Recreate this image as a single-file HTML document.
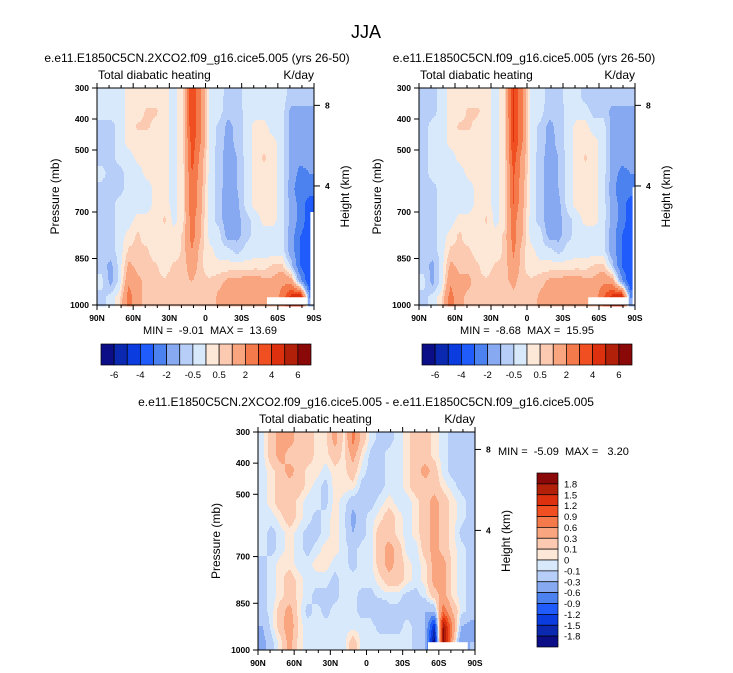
<!DOCTYPE html>
<html><head><meta charset="utf-8">
<style>
html,body{margin:0;padding:0;background:#fff;}
svg{display:block;font-family:"Liberation Sans",Arial,sans-serif;}
text{white-space:pre;}
</style></head>
<body>
<svg id="root" width="733" height="673" viewBox="0 0 733 673" xmlns="http://www.w3.org/2000/svg" xml:space="preserve">
<text x="366" y="38" text-anchor="middle" font-size="18">JJA</text>
<text x="197" y="62" text-anchor="middle" font-size="12">e.e11.E1850C5CN.2XCO2.f09_g16.cice5.005 (yrs 26-50)</text>
<text x="524" y="62" text-anchor="middle" font-size="12">e.e11.E1850C5CN.f09_g16.cice5.005 (yrs 26-50)</text>
<text x="366" y="406" text-anchor="middle" font-size="12">e.e11.E1850C5CN.2XCO2.f09_g16.cice5.005 - e.e11.E1850C5CN.f09_g16.cice5.005</text>
<text x="210" y="334" text-anchor="middle" font-size="11">MIN =  -9.01  MAX =  13.69</text>
<text x="527" y="334" text-anchor="middle" font-size="11">MIN =  -8.68  MAX =  15.95</text>
<text x="498" y="455" font-size="11">MIN =  -5.09  MAX =   3.20</text>
<g id="panels"></g>
</svg>
<script>
// ---- data ----
const levelsFull = [-6,-5,-4,-3,-2,-1,-0.5,0,0.5,1,2,3,4,5,6];
const labelsFull = ["-6","-4","-2","-0.5","0.5","2","4","6"];
const levelsDiff = [-1.8,-1.5,-1.2,-0.9,-0.6,-0.3,-0.1,0,0.1,0.3,0.6,0.9,1.2,1.5,1.8];
const labelsDiff = ["1.8","1.5","1.2","0.9","0.6","0.3","0.1","0","-0.1","-0.3","-0.6","-0.9","-1.2","-1.5","-1.8"];
const colors = ["#0b0e86","#0a28b0","#0a3ce0","#1f5cfb","#4b82ef","#86a9f1","#b6cef8","#d8e9fb","#fde7d7","#fcc9b1","#f9a580","#f47a4c","#f04f22","#dc300f","#b2200a","#8a0808"];
const pressureTicks = [300,400,500,700,850,1000];
const latTicks = ["90N","60N","30N","0","30S","60S","90S"];
const heightTicks = [8,4];
const heightTickP = [356,616];
// rows: 325..975 mb (50 mb steps); cols: 90N -> 90S (7.5 deg)
const ctlA = [
[-0.3,-0.3,-0.3,0.2,0.2,0.2,0.2,0.2,-0.2,0.3,4,2,-0.3,-0.3,-0.7,-0.7,-0.3,-0.3,-0.3,-0.3,-0.3,-0.7,-0.7,-0.7],
[-0.3,-0.3,-0.3,0.2,0.2,0.6,0.6,0.2,-0.2,0.3,4,2,-0.3,-0.3,-0.8,-0.8,-0.3,-0.3,-0.3,-0.3,-0.3,-1.2,-1.2,-1.2],
[-0.7,-0.7,-0.3,0.2,0.6,0.6,0.3,0.2,-0.2,0.3,4,2,-0.3,-0.6,-1.2,-0.8,-0.3,0.2,0.2,-0.3,-0.3,-1.2,-1.2,-1.2],
[-0.7,-0.7,-0.3,0.2,0.2,0.2,0.2,0.2,-0.2,0.3,3.5,2,-0.3,-0.6,-1.3,-0.8,-0.3,0.2,0.2,0.2,-0.3,-1.2,-1.2,-1.2],
[-0.7,-0.7,-0.3,-0.3,0.2,0.2,0.2,0.2,-0.2,0.3,3.5,1.5,-0.3,-0.7,-1.4,-1.0,-0.3,0.2,0.6,0.2,-0.3,-1.2,-1.5,-1.5],
[-0.3,-0.7,-0.7,-0.3,-0.3,0.2,0.2,0.2,-0.2,0.3,3,1.5,-0.3,-0.7,-1.4,-1.0,-0.3,0.2,0.3,0.2,-0.3,-1.2,-2.5,-2],
[-0.7,-0.7,-0.7,-0.3,-0.3,-0.3,0.2,0.2,-0.2,0.3,3,1.2,-0.3,-0.7,-1.5,-1.0,-0.3,0.2,0.2,0.2,-0.3,-1.5,-3,-2.5],
[-0.7,-0.7,-0.3,-0.3,-0.3,-0.3,0.2,0.2,-0.2,0.3,3,1.2,-0.3,-0.7,-1.5,-1.2,-0.3,0.2,0.2,0.2,-0.3,-1.2,-2.5,-3.5],
[-0.7,-0.7,-0.3,-0.3,0.2,0.2,0.2,0.6,-0.2,0.3,2.5,1,-0.3,-0.7,-1.5,-1.2,-0.7,-0.3,0.2,0.2,-0.3,-1.2,-2.5,-3.5],
[-0.7,-0.7,-0.3,0.2,0.6,0.2,0.2,0.2,0.2,0.6,2.5,1,-0.3,-0.3,-1.3,-1.2,-0.7,-0.3,-0.3,-0.3,-0.3,-1.5,-3,-3.5],
[-0.7,-0.7,-0.3,0.6,0.6,0.6,0.2,0.2,0.2,0.6,2,0.6,0.2,-0.3,-0.3,-0.7,-0.3,-0.3,-0.3,-0.3,-0.3,-1.5,-3,-3.5],
[-0.7,-1.2,-0.3,1.2,0.8,0.6,0.6,0.2,0.6,0.6,1.5,0.6,0.2,0.2,0.2,0.2,0.2,0.3,0.3,0.6,0.6,-0.7,-3,-4],
[-0.3,-1.2,-0.3,1.8,1.2,0.8,0.6,0.6,0.8,0.8,1,0.6,0.6,0.8,1.2,1.2,1.5,1.5,1.2,1.2,1.8,1.5,-1.5,-4],
[-0.7,-0.3,0.3,2.5,1.2,0.8,0.6,0.6,0.6,0.6,0.8,0.6,0.6,1.2,1.2,1.2,1.2,1.2,1.2,1.2,2.5,4.5,5,-2]];
const ctlB = [
[-0.7,-0.7,-0.3,0.2,0.2,0.2,0.2,0.2,-0.2,0.3,4.2,2,-0.3,-0.3,-0.7,-0.7,-0.3,-0.3,-0.7,-0.7,-0.7,-0.7,-0.7,-0.7],
[-0.7,-0.7,-0.3,0.2,0.2,0.6,0.6,0.2,-0.2,0.3,4.2,2,-0.3,-0.3,-0.8,-0.8,-0.3,-0.3,-0.3,-0.7,-0.7,-1.2,-1.2,-1.2],
[-0.7,-0.3,-0.3,0.2,0.6,0.6,0.3,0.2,-0.2,0.3,4,2,-0.3,-0.6,-1.2,-0.8,-0.3,0.2,0.2,-0.3,-0.3,-1.2,-1.2,-1.2],
[-0.7,-0.3,-0.3,0.2,0.2,0.2,0.2,0.2,-0.2,0.3,4,2,-0.3,-0.6,-1.3,-0.8,-0.3,0.2,0.2,0.2,-0.3,-1.2,-1.2,-1.2],
[-0.7,-0.3,-0.3,-0.3,0.2,0.2,0.2,0.2,-0.2,0.3,3.5,1.5,-0.3,-0.7,-1.4,-1.0,-0.3,0.2,0.6,0.2,-0.3,-1.2,-1.5,-1.5],
[-0.7,-0.3,-0.3,-0.3,-0.3,0.2,0.2,0.2,-0.2,0.3,3.2,1.5,-0.3,-0.7,-1.4,-1.0,-0.3,0.2,0.3,0.2,-0.3,-1.2,-2.5,-2],
[-0.7,-0.7,-0.3,-0.3,-0.3,-0.3,0.2,0.2,-0.2,0.3,3,1.2,-0.3,-0.7,-1.5,-1.0,-0.3,0.2,0.2,0.2,-0.3,-1.5,-3,-2.5],
[-0.7,-0.7,-0.3,-0.3,-0.3,-0.3,0.2,0.2,-0.2,0.3,3,1.2,-0.3,-0.7,-1.5,-1.2,-0.3,0.2,0.2,0.2,-0.3,-1.2,-2.5,-3.5],
[-0.7,-0.7,-0.3,-0.3,0.2,0.2,0.2,0.6,-0.2,0.3,2.5,1,-0.3,-0.7,-1.5,-1.2,-0.7,-0.3,0.2,0.2,-0.3,-1.2,-2.5,-3.5],
[-0.7,-0.7,-0.3,0.2,0.6,0.2,0.2,0.2,0.2,0.6,2.5,1,-0.3,-0.3,-1.3,-1.2,-0.7,-0.3,-0.3,-0.3,-0.3,-1.5,-3,-3.5],
[-0.7,-0.7,-0.3,0.6,0.6,0.6,0.2,0.2,0.2,0.6,2.2,0.6,0.2,-0.3,-0.3,-0.7,-0.3,-0.3,-0.3,-0.3,-0.3,-1.5,-3,-3.5],
[-0.7,-1.2,-0.3,1.2,0.8,0.8,0.6,0.2,0.6,0.6,1.8,0.6,0.2,0.2,0.2,0.2,0.2,0.3,0.3,0.6,0.6,-0.7,-3,-4],
[-0.3,-1.2,-0.3,1.8,1.2,1.2,0.6,0.6,0.8,0.8,1.2,0.6,0.6,0.8,1.2,1.2,1.5,1.5,1.2,1.2,1.8,1.5,-1.5,-4],
[-0.7,-0.3,0.3,2.5,1.2,0.8,0.6,0.6,0.6,0.6,0.8,0.6,0.6,1.2,1.2,1.2,1.2,1.2,1.2,1.5,3,4.5,5,-2]];
const diffC = [
[-0.05,0.2,0.4,0.4,0.2,0.2,0.05,0.05,0.4,0.05,0.7,0.2,-0.05,-0.15,-0.15,-0.05,0.05,0.2,0.2,0.05,-0.05,-0.15,-0.15,-0.15],
[-0.05,0.2,0.4,0.2,0.2,0.2,0.05,0.05,0.2,0.05,0.4,0.05,-0.15,-0.15,-0.05,-0.05,0.05,0.2,0.2,0.05,-0.05,-0.15,-0.15,-0.15],
[-0.05,0.05,0.2,0.4,0.2,0.05,0.05,-0.05,0.05,0.05,0.2,-0.05,-0.15,-0.15,-0.05,-0.05,0.05,0.2,0.4,0.2,-0.05,-0.15,-0.15,-0.15],
[-0.05,0.05,0.2,0.2,0.2,0.05,-0.05,-0.15,0.05,0.05,0.05,-0.15,-0.15,-0.15,-0.05,-0.05,0.05,0.2,0.2,0.2,0.05,-0.05,-0.15,-0.15],
[-0.05,0.05,0.2,0.2,0.05,-0.05,-0.05,-0.15,0.05,-0.05,-0.2,-0.15,-0.15,-0.05,0.05,-0.05,-0.05,0.05,0.2,0.4,0.2,0.05,-0.05,-0.15],
[-0.05,-0.05,0.05,0.2,0.05,-0.05,-0.15,-0.05,0.05,-0.05,-0.4,-0.15,-0.05,0.05,0.2,0.05,-0.05,0.05,0.2,0.4,0.2,0.05,-0.05,-0.15],
[-0.05,-0.15,-0.05,0.05,-0.05,-0.15,-0.15,-0.05,0.05,-0.05,-0.3,-0.15,-0.05,0.2,0.2,0.05,-0.05,0.05,0.2,0.4,0.2,0.05,-0.15,-0.2],
[-0.05,-0.15,-0.05,0.05,-0.05,-0.15,-0.05,0.05,0.05,-0.05,-0.15,-0.05,-0.05,0.2,0.4,0.2,-0.05,-0.05,0.2,0.4,0.2,0.05,-0.05,-0.15],
[-0.15,-0.05,0.05,0.05,-0.05,-0.05,0.05,0.05,-0.05,-0.05,-0.15,-0.05,-0.05,0.2,0.4,0.2,0.05,-0.05,0.05,0.4,0.4,0.05,-0.05,-0.15],
[-0.15,-0.05,0.05,0.2,0.05,-0.05,-0.05,-0.05,-0.15,-0.05,-0.05,-0.05,-0.05,0.05,0.2,0.2,0.05,-0.05,0.05,0.4,0.4,0.05,-0.05,-0.15],
[-0.15,-0.05,0.05,0.2,0.05,-0.05,-0.15,-0.15,-0.15,-0.05,-0.05,-0.15,-0.15,-0.05,-0.05,-0.05,-0.15,-0.15,-0.05,0.2,0.4,0.05,-0.05,-0.15],
[-0.15,-0.05,0.2,0.4,0.05,-0.15,-0.05,-0.15,-0.05,-0.05,-0.05,-0.15,-0.15,-0.3,-0.15,-0.15,-0.15,-0.15,-0.3,-0.3,0.8,0.3,-0.05,-0.15],
[-0.3,-0.05,0.2,0.5,0.05,-0.05,-0.05,-0.05,-0.05,-0.05,-0.05,-0.05,-0.05,-0.15,-0.15,-0.15,-0.05,-0.15,-0.3,-1.5,1.8,0.6,-0.3,-0.4],
[-0.4,-0.15,0.05,0.4,0.05,-0.05,-0.05,-0.05,-0.05,-0.05,0.2,-0.05,-0.05,-0.05,-0.05,-0.05,-0.05,-0.15,-0.3,-2,2,0.4,-0.6,-0.3]];

const NS="http://www.w3.org/2000/svg";
const panelsG=document.getElementById('panels');
function mk(tag,attrs,parent){const e=document.createElementNS(NS,tag);for(const k in attrs)e.setAttribute(k,attrs[k]);(parent||panelsG).appendChild(e);return e;}
function classify(v,lv){let c=0;for(const b of lv){if(v>=b)c++;}return c;}
function sample(data,latF,p){
  const nr=data.length,nc=data[0].length;
  let r=(p-325)/50; r=Math.max(0,Math.min(nr-1,r));
  let c=latF*nc-0.5; c=Math.max(0,Math.min(nc-1,c));
  const r0=Math.floor(r),c0=Math.floor(c),r1=Math.min(nr-1,r0+1),c1=Math.min(nc-1,c0+1);
  const fr=r-r0,fc=c-c0;
  return (data[r0][c0]*(1-fc)+data[r0][c1]*fc)*(1-fr)+(data[r1][c0]*(1-fc)+data[r1][c1]*fc)*fr;
}
function panel(name,data,lv,x0,y0,w,h,missing){
  const g=mk('g',{});
  
  
  const yP=p=>y0+(p-300)/700*h;
  const xL=f=>x0+f*w;
  const st=2;
  for(let py=0;py<h;py+=st){
    const p=300+700*(py+st/2)/h;
    let runStart=0,runC=-1;
    for(let px=0;px<=w;px+=1){
      let c=-1;
      if(px<w){c=classify(sample(data,(px+0.5)/w,p),lv);}
      if(c!==runC){
        if(runC>=0){const r=mk('rect',{x:x0+runStart,y:y0+py,width:px-runStart+0.4,height:st+0.4,fill:colors[runC]},g);
          
          }
        runStart=px;runC=c;
      }
    }
  }
  for(const m of missing){const r=mk('rect',{x:xL(m[0]),y:yP(m[1]),width:xL(m[2])-xL(m[0]),height:yP(1000)-yP(m[1]),fill:'#fff'},g);
    
    }
  mk('rect',{x:x0,y:y0,width:w,height:h,fill:'none',stroke:'#000','stroke-width':1},g);
  const ax=mk('g',{'font-size':'8.5','font-weight':'bold'},g);
  
  
  for(const p of pressureTicks){const y=yP(p);
    mk('line',{x1:x0-5,x2:x0,y1:y,y2:y,stroke:'#000'},ax);
    const t=mk('text',{x:x0-8,y:y+3,'text-anchor':'end'},ax);t.textContent=p;}
  const lx=mk('g',{'font-size':'8.5','font-weight':'bold'},g);
  
  
  for(let i=0;i<=18;i++){const x=xL(i/18);const L=(i%3===0)?5:3;
    mk('line',{x1:x,x2:x,y1:y0+h,y2:y0+h+L,stroke:'#000'},lx);
    mk('line',{x1:x,x2:x,y1:y0,y2:y0-L,stroke:'#000'},lx);}
  latTicks.forEach((s,i)=>{const t=mk('text',{x:xL(i/6),y:y0+h+16,'text-anchor':'middle'},lx);t.textContent=s;});
  const hx=mk('g',{'font-size':'8.5','font-weight':'bold'},g);
  
  
  heightTicks.forEach((km,i)=>{const y=yP(heightTickP[i]);
    mk('line',{x1:x0+w,x2:x0+w+6,y1:y,y2:y,stroke:'#000'},hx);
    const t=mk('text',{x:x0+w+11,y:y+3},hx);t.textContent=km;});
  const yt=mk('text',{transform:`translate(${x0-38},${y0+h/2}) rotate(-90)`,'text-anchor':'middle','font-size':'12'},g);
  yt.textContent='Pressure (mb)';
  
  
  const rt=mk('text',{transform:`translate(${x0+w+35},${y0+h/2}) rotate(-90)`,'text-anchor':'middle','font-size':'12'},g);
  rt.textContent='Height (km)';
  
  
  const lt=mk('text',{x:x0+1,y:y0-9,'font-size':'12'},g);lt.textContent='Total diabatic heating';
  
  
  const ut=mk('text',{x:x0+w,y:y0-9,'font-size':'12','text-anchor':'end'},g);ut.textContent='K/day';
  
  
}
function hbar(name,x0,y0,w,h){
  const g=mk('g',{});
  
  
  const bw=w/16;
  colors.forEach((c,i)=>{const r=mk('rect',{x:x0+i*bw,y:y0,width:bw,height:h,fill:c,stroke:'#000','stroke-width':0.7},g);
    
    });
  labelsFull.forEach((s,i)=>{const t=mk('text',{x:x0+(2*i+1)*bw,y:y0+h+13,'text-anchor':'middle','font-size':'9.5'},g);t.textContent=s;});
}
function vbar(name,x0,y0,w,h){
  const g=mk('g',{});
  
  
  const bh=h/16;
  colors.slice().reverse().forEach((c,i)=>{const r=mk('rect',{x:x0,y:y0+i*bh,width:w,height:bh,fill:c,stroke:'#000','stroke-width':0.7},g);
    
    });
  labelsDiff.forEach((s,i)=>{const t=mk('text',{x:x0+w+6,y:y0+(i+1)*bh+3.5,'font-size':'9.5'},g);t.textContent=s;});
}
panel('left-panel',ctlA,levelsFull,97,88,217,217,[[141/180,975,174/180],[177/180,700,1]]);
panel('right-panel',ctlB,levelsFull,419,88,216,217,[[141/180,975,174/180],[178/180,620,1]]);
panel('diff-panel',diffC,levelsDiff,258,432,217,218,[[141/180,975,174/180]]);
hbar('left-colorbar',101,344,210,21);
hbar('right-colorbar',422,344,210,21);
vbar('diff-colorbar',537,473,21,174);
</script>
</body></html>
